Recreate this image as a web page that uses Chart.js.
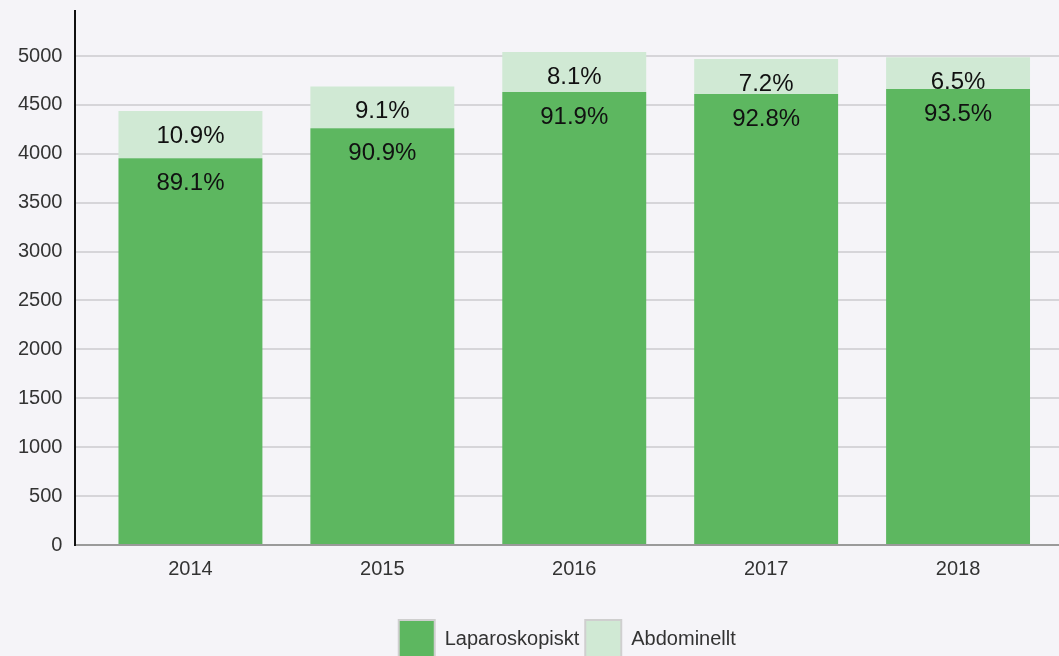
<!DOCTYPE html>
<html>
<head>
<meta charset="utf-8">
<script src="https://cdn.jsdelivr.net/npm/chart.js@4"></script>
<style>
    html, body { margin: 0; padding: 0; background: #f5f4f8; overflow: hidden; }
    #wrap { width: 1059px; height: 668px; }
</style>
</head>
<body>
<div id="wrap"><canvas id="diagram1"></canvas></div>
<script>
const years = ["2014", "2015", "2016", "2017", "2018"];
const laparoskopiskt = [3954, 4262, 4632, 4611, 4663];
const abdominellt = [483, 426, 409, 358, 324];
const seriesNames = ["Laparoskopiskt", "Abdominellt"];
const yTicks = [0, 500, 1000, 1500, 2000, 2500, 3000, 3500, 4000, 4500, 5000];

const font = 'Liberation Sans, Arial, sans-serif';

// percent labels drawn near the top of each segment
const percentLabels = {
    id: 'percentLabels',
    afterDatasetsDraw(chart) {
        const ctx = chart.ctx;
        ctx.save();
        ctx.font = '24px ' + font;
        ctx.fillStyle = '#111';
        ctx.textAlign = 'center';
        ctx.textBaseline = 'middle';
        chart.data.datasets.forEach((ds, di) => {
            chart.getDatasetMeta(di).data.forEach((bar, i) => {
                const total = laparoskopiskt[i] + abdominellt[i];
                const pct = (ds.data[i] / total * 100).toFixed(1) + '%';
                ctx.fillText(pct, bar.x, bar.y + 25);
            });
        });
        ctx.restore();
    }
};

new Chart(
    document.getElementById("diagram1"),
    {
        type: 'bar',
        data: {
            labels: years,
            datasets: [
                {
                    label: seriesNames[0],
                    data: laparoskopiskt,
                    backgroundColor: 'rgb(93,183,96)',
                    borderWidth: 0
                },
                {
                    label: seriesNames[1],
                    data: abdominellt,
                    backgroundColor: 'rgb(208,233,212)',
                    borderWidth: 0
                }
            ]
        },
        options: {
            responsive: true,
            maintainAspectRatio: false,
            animation: false,
            categoryPercentage: 0.75,
            barPercentage: 1,
            layout: {
                padding: { top: 11, left: 5, right: 0, bottom: 0 }
            },
            scales: {
                x: {
                    stacked: true,
                    grid: { display: false, drawTicks: false },
                    border: { display: true, color: '#9a9a9a', width: 2 },
                    ticks: {
                        padding: 12,
                        color: '#333',
                        font: { family: font, size: 20 }
                    },
                    afterBuildTicks: scale => {
                        // leave a small gap between the y axis and the first bar slot
                        scale._startValue = -0.599;
                        scale._valueRange = 5.125;
                    },
                    afterFit: scale => {
                        scale.height += 21;
                        scale.paddingLeft = 0;
                        scale.paddingRight = 0;
                    }
                },
                y: {
                    stacked: true,
                    min: 0,
                    max: 5460,
                    grid: { color: 'rgb(214,213,217)', lineWidth: 2, drawTicks: false },
                    border: { display: true, color: '#111', width: 2 },
                    ticks: {
                        padding: 13,
                        color: '#333',
                        font: { family: font, size: 20 },
                        callback: v => String(v)
                    },
                    afterBuildTicks: scale => {
                        scale.ticks = yTicks.map(v => ({ value: v }));
                    },
                    afterFit: scale => {
                        scale.paddingTop = 0;
                    }
                }
            },
            plugins: {
                tooltip: { enabled: false },
                legend: {
                    position: 'bottom',
                    fullSize: false,
                    labels: {
                        boxWidth: 36,
                        boxHeight: 38,
                        padding: 6,
                        color: '#333',
                        font: { family: font, size: 20 },
                        generateLabels: chart =>
                            Chart.defaults.plugins.legend.labels.generateLabels(chart).map(l => {
                                l.strokeStyle = '#cfcfcf';
                                l.lineWidth = 2;
                                return l;
                            })
                    }
                }
            }
        },
        plugins: [percentLabels]
    }
);
</script>
</body>
</html>
